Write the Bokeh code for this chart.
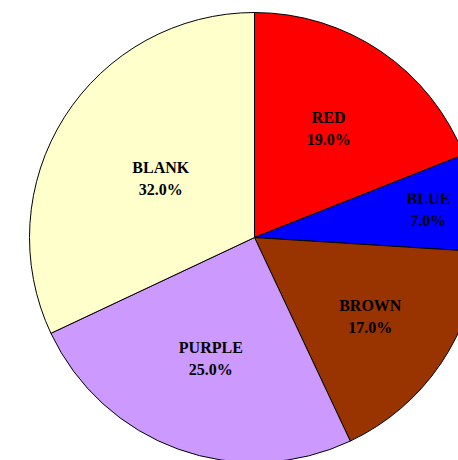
import math
from bokeh.plotting import figure
from bokeh.models import ColumnDataSource, Range1d
from bokeh.core.properties import value
from bokeh.embed import file_html
from bokeh.resources import INLINE

# data
categories = ["RED", "BLUE", "BROWN", "PURPLE", "BLANK"]
shares = [19.0, 7.0, 17.0, 25.0, 32.0]

# styling / layout
colors = ["#FF0000", "#0000FF", "#993300", "#CC99FF", "#FFFFCC"]
label_radius = [132, 176, 140, 129, 111]
W, H = 458, 460
cx, cy, R = 254, H - 237, 225

total = sum(shares)
starts, ends, lx, ly, pct = [], [], [], [], []
cum = 0.0
for i, s in enumerate(shares):
    a0 = math.pi / 2 - 2 * math.pi * cum / total
    cum += s
    a1 = math.pi / 2 - 2 * math.pi * cum / total
    starts.append(a0)
    ends.append(a1)
    mid = (a0 + a1) / 2
    lx.append(cx + label_radius[i] * math.cos(mid))
    ly.append(cy + label_radius[i] * math.sin(mid))
    pct.append(f"{s:.1f}%")

src = ColumnDataSource(dict(start=starts, end=ends, color=colors,
                            name=categories, pct=pct, lx=lx, ly=ly))

p = figure(width=W, height=H, output_backend="svg", toolbar_location=None,
           x_range=Range1d(0, W), y_range=Range1d(0, H), min_border=0)
p.axis.visible = False
p.grid.visible = False
p.outline_line_color = None
p.background_fill_color = "white"
p.border_fill_color = "white"

p.wedge(x=cx, y=cy, radius=R, start_angle="start", end_angle="end",
        direction="clock", fill_color="color", line_color="black",
        line_width=1, source=src)

font = value("Liberation Serif")
p.text(x="lx", y="ly", text="name", source=src, text_font=font,
       text_font_style="bold", text_font_size="16px", text_align="center",
       text_baseline="middle", y_offset=-11, text_color="black")
p.text(x="lx", y="ly", text="pct", source=src, text_font=font,
       text_font_style="bold", text_font_size="16px", text_align="center",
       text_baseline="middle", y_offset=11, text_color="black")

open("out.html", "w").write(file_html(p, INLINE))
